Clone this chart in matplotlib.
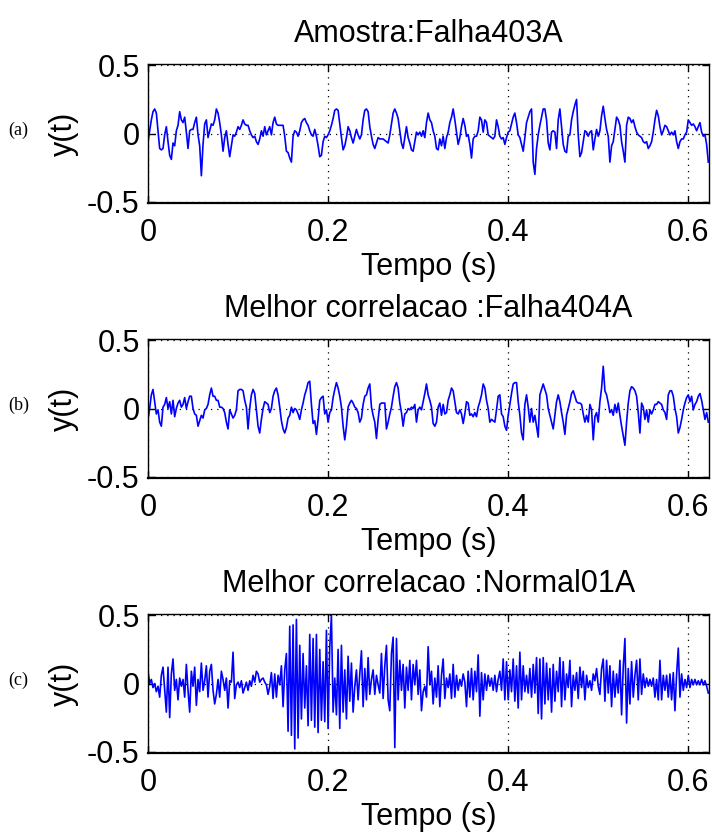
import numpy as np
import matplotlib
matplotlib.use('Agg')
from matplotlib import pyplot as plt

plt.rcParams['font.family'] = ['Liberation Sans', 'DejaVu Sans']

# sampling rate of the stored traces (Hz)
fs = 540.0

# acceleration signals y(t)
falha403a = [
    -0.06, 0.02, 0.10, 0.16, 0.18, 0.15, 0.02, -0.11, -0.12, -0.11,
    -0.01, 0.05, -0.06, -0.16, -0.19, -0.07, -0.09, 0.02, 0.06, 0.16,
    0.10, 0.08, 0.12, 0.01, -0.11, 0.02, 0.03, 0.03, 0.08, 0.12,
    -0.01, -0.09, -0.31, -0.08, 0.07, 0.10, -0.03, 0.02, 0.07, 0.06,
    0.10, 0.18, 0.15, 0.08, -0.01, -0.13, -0.03, 0.02, -0.08, -0.17,
    -0.09, -0.01, -0.02, 0.01, 0.05, 0.03, 0.06, 0.10, 0.07, 0.06,
    0.06, 0.02, -0.01, -0.03, -0.02, -0.06, -0.08, -0.04, 0.02, -0.02,
    0.05, -0.01, 0.02, 0.05, -0.01, 0.08, 0.12, 0.07, 0.06, 0.06,
    0.06, 0.06, -0.02, -0.13, -0.14, -0.18, -0.21, -0.02, 0.02, 0.01,
    -0.02, 0.02, 0.08, 0.10, 0.11, 0.08, 0.06, 0.02, -0.01, -0.02,
    0.03, -0.02, -0.09, -0.17, -0.16, -0.06, -0.02, -0.03, -0.01, 0.02,
    0.06, 0.11, 0.17, 0.18, 0.17, 0.07, -0.03, -0.12, -0.09, -0.03,
    0.05, 0.02, -0.03, -0.07, -0.02, 0.03, -0.01, -0.04, -0.01, 0.10,
    0.17, 0.18, 0.16, 0.05, -0.02, -0.08, -0.11, -0.07, -0.03, -0.04,
    -0.04, -0.04, -0.05, -0.06, -0.07, -0.01, 0.07, 0.15, 0.18, 0.15,
    0.11, 0.02, -0.07, -0.11, -0.03, 0.05, -0.03, -0.07, -0.12, -0.13,
    -0.06, 0.01, -0.01, 0.01, -0.02, 0.02, -0.03, 0.08, 0.15, 0.10,
    0.08, 0.02, -0.02, -0.11, -0.12, -0.04, -0.09, -0.02, -0.11, -0.03,
    0.01, 0.08, 0.12, 0.18, 0.10, 0.01, -0.08, -0.03, 0.05, 0.11,
    0.06, -0.02, -0.01, -0.08, -0.18, -0.04, -0.02, -0.02, 0.02, 0.12,
    0.10, 0.01, 0.10, 0.08, -0.01, -0.02, -0.03, -0.04, -0.02, 0.10,
    0.05, -0.02, -0.04, -0.03, -0.08, -0.03, 0.01, 0.02, 0.07, 0.12,
    0.15, 0.08, -0.01, -0.03, -0.08, -0.13, -0.03, 0.08, 0.12, 0.16,
    0.18, -0.21, -0.30, -0.11, -0.01, 0.06, 0.12, 0.18, 0.18, 0.10,
    -0.07, -0.12, 0.01, 0.02, 0.01, -0.11, 0.10, 0.18, 0.05, -0.08,
    -0.13, -0.14, -0.02, -0.01, 0.10, 0.16, 0.21, 0.25, -0.01, -0.17,
    -0.14, -0.06, 0.02, 0.01, -0.02, 0.01, 0.02, -0.12, -0.04, 0.03,
    -0.02, 0.02, 0.13, 0.20, 0.11, 0.03, -0.02, -0.21, -0.09, -0.06,
    0.03, 0.12, 0.10, 0.06, -0.06, -0.13, -0.21, 0.06, 0.12, 0.11,
    0.08, 0.10, 0.05, 0.01, -0.01, -0.02, -0.03, -0.06, -0.07, -0.06,
    -0.11, -0.09, -0.06, 0.01, 0.10, 0.17, 0.13, 0.05, -0.01, 0.02,
    0.06, 0.05, 0.02, -0.01, 0.01, -0.01, 0.02, -0.06, -0.11, -0.06,
    -0.04, -0.04, -0.01, 0.01, 0.10, 0.08, 0.06, 0.07, 0.05, 0.02,
    0.05, 0.08, 0.01, -0.02, -0.01, -0.08, -0.21,
]

falha404a = [
    -0.08, 0.00, 0.10, 0.14, 0.05, -0.04, -0.01, -0.10, -0.13, 0.01,
    0.03, 0.08, 0.00, 0.05, -0.04, 0.06, -0.06, 0.00, 0.04, 0.06,
    0.01, 0.03, 0.08, 0.00, 0.05, 0.09, 0.09, 0.00, -0.04, -0.05,
    -0.13, -0.09, -0.05, -0.07, -0.01, 0.00, 0.03, 0.10, 0.15, 0.09,
    0.09, 0.06, 0.06, 0.01, 0.01, 0.00, -0.03, -0.10, -0.15, -0.01,
    -0.04, -0.07, -0.05, -0.01, 0.13, 0.14, 0.14, 0.13, 0.06, 0.01,
    -0.15, 0.00, 0.10, 0.14, 0.11, -0.01, -0.13, -0.18, -0.08, 0.00,
    0.05, 0.04, 0.03, -0.03, 0.00, 0.09, 0.13, 0.15, 0.10, 0.01,
    -0.09, -0.15, -0.18, -0.14, -0.07, -0.05, 0.01, -0.03, 0.00, -0.01,
    -0.04, -0.08, -0.01, 0.04, 0.10, 0.14, 0.19, 0.20, 0.03, -0.11,
    -0.09, -0.19, -0.08, 0.06, 0.08, 0.09, -0.04, -0.01, -0.10, -0.03,
    -0.01, 0.08, 0.14, 0.19, 0.15, 0.09, 0.01, -0.13, -0.23, -0.13,
    0.01, 0.04, 0.06, 0.04, 0.01, 0.00, -0.03, -0.10, -0.07, 0.03,
    0.09, 0.10, 0.15, 0.18, 0.01, -0.05, -0.10, -0.22, -0.08, 0.03,
    0.04, 0.04, 0.04, -0.15, -0.10, -0.04, 0.01, 0.09, 0.16, 0.19,
    0.15, 0.04, -0.03, -0.13, -0.04, -0.03, 0.00, -0.01, 0.01, 0.00,
    0.03, -0.10, -0.01, 0.01, -0.01, 0.05, 0.11, 0.18, 0.10, 0.06,
    0.01, -0.11, -0.13, -0.10, 0.01, 0.04, -0.05, 0.03, -0.04, -0.03,
    0.06, 0.10, 0.15, 0.13, 0.05, -0.03, -0.04, -0.01, -0.04, -0.11,
    -0.04, 0.05, 0.04, -0.05, -0.04, -0.06, -0.03, -0.06, 0.01, 0.05,
    0.10, 0.18, 0.15, 0.06, 0.00, -0.10, -0.08, -0.09, -0.10, -0.01,
    0.09, 0.10, -0.04, -0.06, -0.13, -0.16, -0.05, 0.03, 0.11, 0.18,
    0.19, 0.19, 0.05, -0.05, -0.18, -0.23, 0.03, 0.10, 0.01, -0.10,
    0.00, -0.10, -0.05, -0.13, -0.21, 0.10, 0.14, 0.18, 0.14, 0.10,
    0.00, -0.05, -0.10, -0.15, -0.05, 0.05, 0.10, 0.05, -0.03, -0.10,
    -0.19, -0.05, 0.00, 0.05, 0.11, 0.13, 0.09, 0.05, 0.04, 0.04,
    0.03, -0.04, -0.10, -0.05, -0.10, 0.03, -0.01, -0.23, -0.06, -0.03,
    -0.10, 0.05, 0.15, 0.31, 0.13, 0.10, 0.04, -0.03, -0.01, -0.05,
    0.03, -0.03, 0.04, -0.05, -0.13, -0.20, -0.27, -0.10, 0.04, 0.13,
    0.16, 0.15, 0.13, 0.09, -0.03, -0.18, 0.04, 0.01, -0.08, -0.01,
    -0.10, -0.01, -0.04, -0.01, 0.03, 0.03, 0.05, 0.04, 0.03, -0.01,
    -0.03, -0.08, 0.10, 0.13, 0.13, 0.09, 0.00, -0.06, -0.18, -0.14,
    -0.08, -0.01, 0.04, 0.08, 0.10, 0.05, 0.09, -0.01, 0.03, 0.05,
    0.09, 0.11, 0.06, -0.01, -0.08, -0.03, -0.10,
]

normal01a = [
    0.09, 0.00, 0.03, -0.03, 0.00, -0.06, -0.02, -0.10, 0.06, 0.12,
    -0.05, -0.21, 0.12, -0.25, 0.07, 0.18, -0.05, 0.03, -0.12, 0.04,
    -0.02, 0.03, -0.10, 0.14, -0.05, -0.21, 0.09, -0.02, 0.12, -0.16,
    0.03, -0.06, 0.15, -0.05, 0.02, 0.13, -0.10, 0.09, 0.14, -0.05,
    -0.15, -0.08, 0.03, -0.10, 0.09, 0.03, -0.05, 0.04, -0.18, 0.02,
    0.01, 0.23, -0.11, -0.01, 0.01, -0.03, 0.02, -0.07, -0.03, 0.01,
    -0.05, 0.02, -0.02, 0.06, 0.01, 0.09, 0.07, 0.01, 0.03, 0.04,
    0.01, -0.01, -0.08, -0.02, 0.08, -0.11, 0.07, -0.10, 0.06, -0.01,
    0.13, -0.17, 0.10, 0.22, -0.35, 0.42, -0.38, 0.43, -0.48, 0.47,
    -0.40, 0.28, -0.26, 0.22, -0.18, 0.13, -0.31, 0.36, -0.27, 0.33,
    -0.32, 0.36, -0.36, 0.25, -0.27, 0.16, -0.28, 0.39, -0.33, 0.27,
    0.50, -0.21, 0.04, -0.23, 0.25, -0.33, 0.28, -0.21, 0.10, -0.26,
    0.20, -0.13, 0.15, -0.21, -0.02, 0.10, -0.12, 0.07, 0.24, -0.17,
    0.11, -0.12, 0.19, -0.08, 0.03, 0.10, -0.08, 0.06, -0.01, -0.07,
    0.22, -0.11, 0.13, 0.28, -0.12, -0.20, 0.22, 0.34, -0.47, 0.33,
    -0.12, 0.17, -0.05, 0.14, -0.18, 0.12, -0.05, 0.17, -0.12, 0.14,
    -0.01, 0.17, -0.08, 0.10, -0.20, -0.06, -0.02, -0.10, 0.27, -0.01,
    0.09, -0.15, 0.04, -0.10, 0.13, -0.17, 0.06, 0.18, -0.11, 0.04,
    -0.03, 0.07, -0.11, 0.14, -0.10, 0.06, -0.05, 0.03, -0.02, 0.07,
    0.01, -0.17, 0.09, -0.10, 0.11, -0.12, 0.09, -0.06, 0.21, -0.24,
    0.08, -0.12, 0.07, -0.05, 0.06, -0.02, 0.04, -0.05, 0.06, -0.06,
    0.03, 0.09, -0.05, 0.18, -0.12, 0.16, -0.12, 0.10, -0.06, 0.18,
    -0.13, 0.13, -0.18, 0.23, -0.12, 0.13, -0.06, 0.06, -0.07, 0.11,
    -0.10, 0.14, -0.07, 0.19, -0.22, 0.18, -0.26, 0.19, -0.15, 0.15,
    -0.12, 0.11, -0.21, 0.14, -0.13, 0.09, -0.06, 0.19, -0.17, 0.16,
    -0.12, 0.07, -0.03, 0.17, -0.17, 0.06, -0.05, 0.08, -0.11, 0.12,
    -0.03, 0.09, -0.12, 0.06, -0.03, 0.02, -0.05, 0.07, 0.02, 0.11,
    -0.02, -0.08, 0.11, 0.18, -0.13, 0.17, -0.07, 0.13, -0.17, 0.09,
    -0.10, 0.07, -0.07, 0.17, -0.23, 0.12, 0.33, -0.29, 0.11, -0.15,
    0.16, -0.10, 0.06, 0.17, -0.12, 0.18, -0.08, 0.07, -0.03, 0.04,
    -0.02, 0.03, -0.02, 0.04, -0.10, 0.03, -0.12, 0.17, -0.12, 0.06,
    -0.05, 0.06, -0.10, 0.07, -0.12, 0.08, -0.20, 0.07, 0.26, -0.10,
    0.07, -0.05, 0.03, -0.03, 0.06, -0.03, 0.03, -0.01, 0.03, -0.01,
    0.02, -0.01, 0.03, -0.01, 0.02, -0.02, -0.07,
]

signals = [falha403a, falha404a, normal01a]
titles = ['Amostra:Falha403A',
          'Melhor correlacao :Falha404A',
          'Melhor correlacao :Normal01A']
tags = ['(a)', '(b)', '(c)']

xticks = [0, 0.2, 0.4, 0.6]
xticklabels = ['0', '0.2', '0.4', '0.6']
yticks = [-0.5, 0, 0.5]
yticklabels = ['-0.5', '0', '0.5']

W, H = 712, 833
fig = plt.figure(figsize=(W / 100, H / 100), dpi=100)

# axes boxes in pixels: left, top, right, bottom
boxes = [(148, 64, 709, 203),
         (148, 339, 709, 478),
         (148, 614, 709, 753)]

for sig, title, tag, (l, t, r, b) in zip(signals, titles, tags, boxes):
    ax = fig.add_axes([l / W, 1 - b / H, (r - l) / W, (b - t) / H])
    y = np.array(sig)
    tt = np.arange(len(y)) / fs
    ax.plot(tt, y, color='#0000ff', linewidth=1.2)

    ax.set_xlim(0, 0.623)
    ax.set_ylim(-0.51, 0.51)
    ax.set_xticks(xticks)
    ax.set_xticklabels(xticklabels)
    ax.set_yticks(yticks)
    ax.set_yticklabels(yticklabels)
    ax.tick_params(direction='in', length=5, width=1, labelsize=22,
                   top=True, right=True)
    ax.tick_params(axis='x', pad=11)
    ax.tick_params(axis='y', pad=6)
    ax.grid(True, color='black', linestyle=(0, (1, 4)), linewidth=0.9)
    for s in ax.spines.values():
        s.set_linewidth(1.0)
    ax.spines['bottom'].set_linewidth(1.6)

    ax.set_title(title, fontsize=22, pad=16)
    ax.set_xlabel('Tempo (s)', fontsize=22, labelpad=3)
    ax.set_ylabel('y(t)', fontsize=22, labelpad=6)

    fig.text(8 / W, 1 - ((t + b) / 2 - 3) / H, tag, fontsize=13,
             family='Liberation Serif', ha='left', va='center')

fig.savefig('out.png', dpi=100)
